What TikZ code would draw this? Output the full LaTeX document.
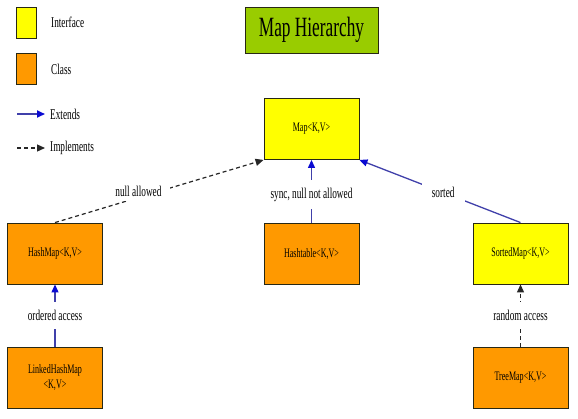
\documentclass[tikz,border=0pt]{standalone}
\usepackage{fontspec}
\setmainfont{Liberation Serif}[FakeStretch=0.62]
\usetikzlibrary{arrows.meta}
\definecolor{ifc}{RGB}{255,255,0}
\definecolor{cls}{RGB}{255,153,0}
\definecolor{ttl}{RGB}{153,204,0}
\definecolor{extline}{RGB}{64,64,170}
\definecolor{exttip}{RGB}{10,10,210}
\definecolor{edgec}{RGB}{40,40,20}
\begin{document}
\begin{tikzpicture}[x=1bp,y=-1bp,
  box/.style={draw=edgec,line width=0.9bp,minimum width=95bp,minimum height=61bp,inner sep=0pt,font=\fontsize{13}{15}\selectfont,align=center},
  ifbox/.style={box,fill=ifc},
  clbox/.style={box,fill=cls},
  ext/.style={draw=extline,line width=1.3bp,-{Triangle[length=8bp,width=7bp,fill=exttip,color=exttip]}},
  impl/.style={draw=black!85,line width=1.2bp,dash pattern=on 4bp off 3bp,-{Triangle[length=8bp,width=7bp]}},
  lbl/.style={fill=white,font=\fontsize{15}{16}\selectfont,inner xsep=6bp,inner ysep=8bp},
  legtxt/.style={anchor=west,font=\fontsize{15}{16}\selectfont,inner sep=0pt},
  legbox/.style={draw=edgec,line width=0.9bp,minimum width=20bp,minimum height=31bp,inner sep=0pt}
]
\useasboundingbox[fill=white] (0,0) rectangle (578,418);

% legend
\node[legbox,fill=ifc] (legif) at (26,22.5) {};
\node[legbox,fill=cls] (legcl) at (26,68.5) {};
\node[legtxt] (legiftxt) at (51,22) {Interface};
\node[legtxt] (legcltxt) at (51,69) {Class};
\coordinate (extA) at (17,114);
\coordinate (extB) at (45,114);
\coordinate (impA) at (17,148);
\coordinate (impB) at (45,148);
\draw[ext,line width=1.8bp] (extA) -- (extB);
\draw[impl] (impA) -- (impB);
\node[legtxt] (exttxt) at (50,114) {Extends};
\node[legtxt] (imptxt) at (50,148) {Implements};

% title
\node[draw=edgec,line width=0.9bp,fill=ttl,minimum width=133bp,minimum height=46bp,inner sep=0pt,font=\fontsize{28}{30}\selectfont] (title) at (311.5,30) {Map Hierarchy};

% nodes
\node[ifbox] (map) at (311.5,129) {Map<K,V>};
\node[clbox] (hashmap) at (55,253.5) {HashMap<K,V>};
\node[clbox] (hashtable) at (311.5,254) {Hashtable<K,V>};
\node[ifbox] (sorted) at (520.5,253.5) {SortedMap<K,V>};
\node[clbox] (linked) at (55,377.5) {LinkedHashMap\\<K,V>};
\node[clbox] (tree) at (520.5,377.5) {TreeMap<K,V>};

% connectors
\draw[impl] (hashmap.north) -- node[lbl,pos=0.4,yshift=6bp,inner xsep=9bp,inner ysep=4bp]{null allowed} (map.south west);
\draw[ext] (hashtable.north) -- node[lbl,pos=0.45]{sync, null not allowed} (map.south);
\draw[ext] (sorted.north) -- node[lbl,pos=0.48,inner xsep=10bp,inner ysep=6bp]{sorted} (map.south east);
\draw[ext] (linked.north) -- node[lbl]{ordered access} (hashmap.south);
\draw[impl] (tree.north) -- node[lbl]{random access} (sorted.south);
\end{tikzpicture}
\end{document}
